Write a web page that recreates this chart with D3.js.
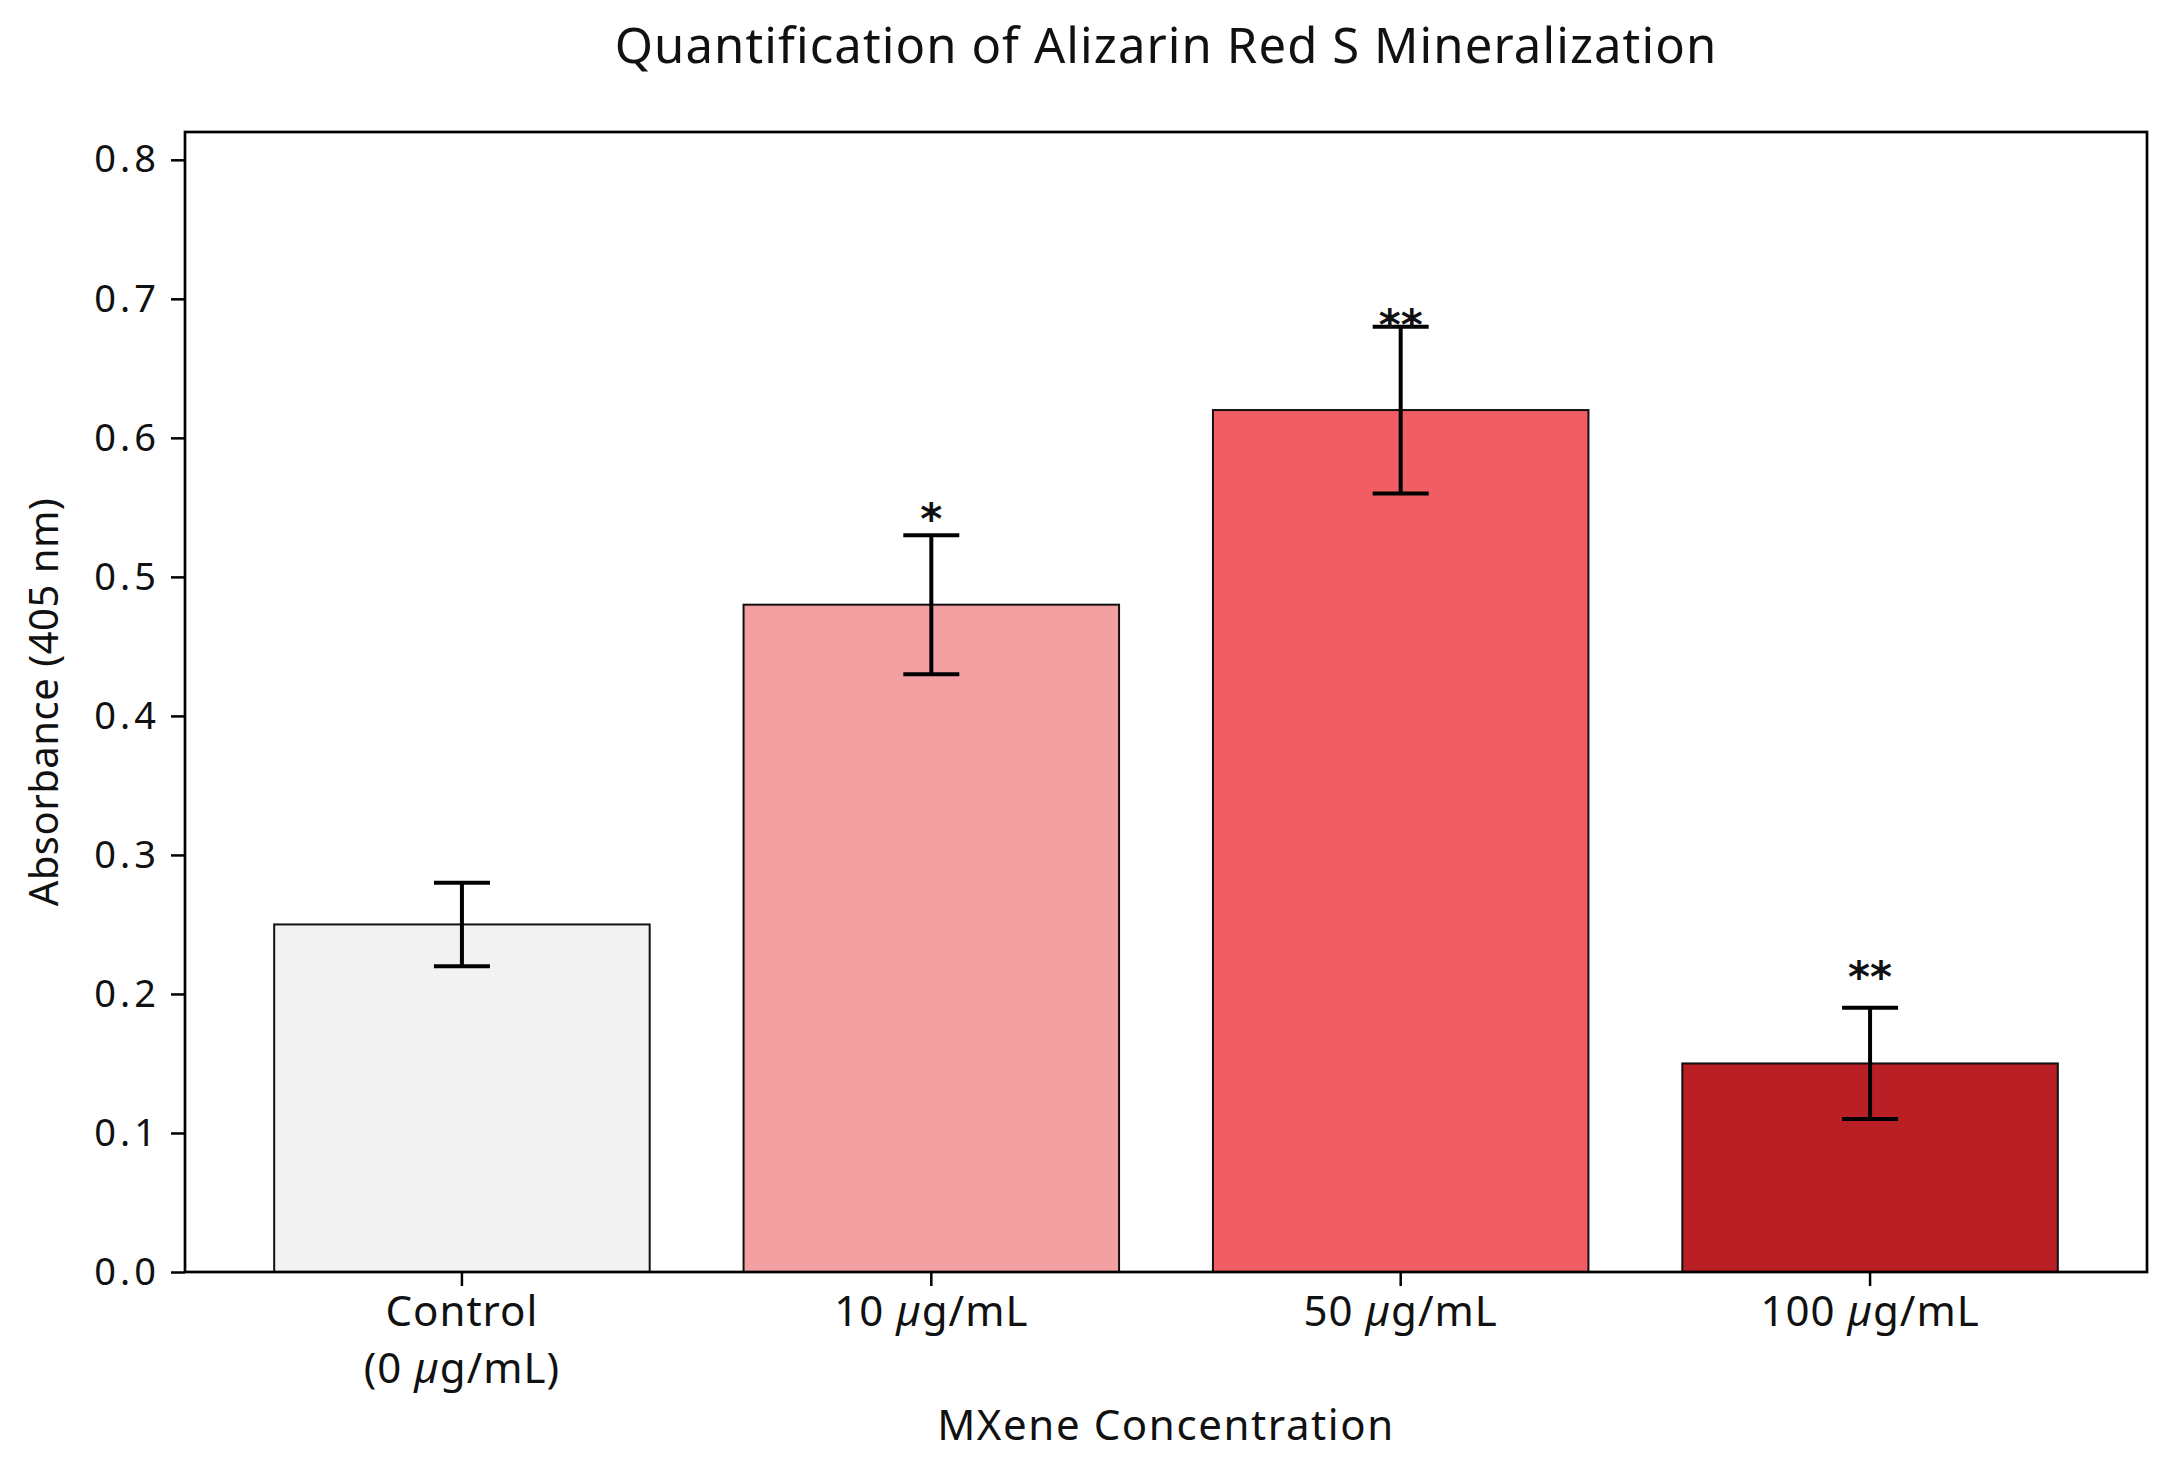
<!DOCTYPE html>
<html>
<head>
<meta charset="utf-8">
<script src="https://cdn.jsdelivr.net/npm/d3@7"></script>
<style>
  body { margin: 0; background: #fff; }
  text { font-family: "Noto Sans", "Open Sans", sans-serif; fill: #111; }
</style>
</head>
<body>
<div id="chart"></div>
<script>
// data
const groups = ["Control", "10", "50", "100"];
const tickLines = [["Control", "(0 |µ|g/mL)"], ["10 |µ|g/mL"], ["50 |µ|g/mL"], ["100 |µ|g/mL"]];
const means = [0.25, 0.48, 0.62, 0.15];
const errs = [0.03, 0.05, 0.06, 0.04];
const sigLabels = ["", "*", "**", "**"];
const sigLevels = [0, 0.547, 0.686, 0.217];   // where the stars sit
const barColors = ["#f2f2f2", "#f4a0a3", "#f05e63", "#b91f25"];
const yTicks = [0, 0.1, 0.2, 0.3, 0.4, 0.5, 0.6, 0.7, 0.8];

const svgWidth = 2173, svgHeight = 1472;
const margin = {top: 132, right: 26, bottom: 200, left: 185};
const chartWidth = svgWidth - margin.left - margin.right;
const chartHeight = svgHeight - margin.top - margin.bottom;

const svg = d3.select("#chart").append("svg")
  .attr("width", svgWidth)
  .attr("height", svgHeight);

const chart = svg.append("g")
  .attr("transform", `translate(${margin.left},${margin.top})`);

const x = d3.scaleBand()
  .domain(groups)
  .range([0, chartWidth])
  .paddingInner(0.2)
  .paddingOuter(0.19);

const y = d3.scaleLinear()
  .domain([0, 0.82])
  .range([chartHeight, 0]);

// bars
chart.selectAll("rect.bar")
  .data(groups)
  .enter().append("rect")
  .attr("class", "bar")
  .attr("x", d => x(d))
  .attr("y", (d, i) => y(means[i]))
  .attr("width", x.bandwidth())
  .attr("height", (d, i) => y(0) - y(means[i]))
  .attr("fill", (d, i) => barColors[i])
  .attr("stroke", "#111")
  .attr("stroke-width", 2);

// error bars
const capHalf = 28;
const eb = chart.selectAll("g.err")
  .data(groups)
  .enter().append("g")
  .attr("class", "err")
  .attr("stroke", "#000")
  .attr("stroke-width", 4);
eb.append("line")
  .attr("x1", d => x(d) + x.bandwidth() / 2)
  .attr("x2", d => x(d) + x.bandwidth() / 2)
  .attr("y1", (d, i) => y(means[i] - errs[i]))
  .attr("y2", (d, i) => y(means[i] + errs[i]));
eb.append("line")
  .attr("x1", d => x(d) + x.bandwidth() / 2 - capHalf)
  .attr("x2", d => x(d) + x.bandwidth() / 2 + capHalf)
  .attr("y1", (d, i) => y(means[i] + errs[i]))
  .attr("y2", (d, i) => y(means[i] + errs[i]));
eb.append("line")
  .attr("x1", d => x(d) + x.bandwidth() / 2 - capHalf)
  .attr("x2", d => x(d) + x.bandwidth() / 2 + capHalf)
  .attr("y1", (d, i) => y(means[i] - errs[i]))
  .attr("y2", (d, i) => y(means[i] - errs[i]));

// significance stars
chart.selectAll("text.sig")
  .data(groups)
  .enter().append("text")
  .attr("class", "sig")
  .attr("x", d => x(d) + x.bandwidth() / 2)
  .attr("y", (d, i) => y(sigLevels[i]) + 22)
  .attr("text-anchor", "middle")
  .style("font-size", "42px")
  .style("font-weight", "bold")
  .style("font-family", "DejaVu Sans")
  .text((d, i) => sigLabels[i]);

// axes
const yAxis = d3.axisLeft(y).tickValues(yTicks).tickFormat(d3.format(".1f")).tickSize(14).tickPadding(11);
const xAxis = d3.axisBottom(x).tickSize(14).tickFormat("");

const gy = chart.append("g").call(yAxis);
gy.select(".domain").remove();
gy.selectAll("line").attr("stroke", "#000").attr("stroke-width", 2.5);
gy.selectAll("text")
  .style("font-size", "38px")
  .style("letter-spacing", "4px")
  .style("font-family", null);

const gx = chart.append("g")
  .attr("transform", `translate(0,${chartHeight})`)
  .call(xAxis);
gx.select(".domain").remove();
gx.selectAll("line").attr("stroke", "#000").attr("stroke-width", 2.5);

// x tick labels, with italic mu
groups.forEach((g, i) => {
  const t = chart.append("text")
    .attr("x", x(g) + x.bandwidth() / 2)
    .attr("y", chartHeight + 54)
    .attr("text-anchor", "middle")
    .style("font-size", "42px")
    .style("letter-spacing", "1px");
  tickLines[i].forEach((line, li) => {
    const parts = line.split("|");
    parts.forEach((p, pi) => {
      const ts = t.append("tspan").text(p);
      if (pi === 0) ts.attr("x", x(g) + x.bandwidth() / 2).attr("dy", li === 0 ? 0 : 57);
      if (p === "µ") ts.style("font-style", "italic");
    });
  });
});

// frame
chart.append("rect")
  .attr("width", chartWidth)
  .attr("height", chartHeight)
  .attr("fill", "none")
  .attr("stroke", "#000")
  .attr("stroke-width", 2.7);

// title and axis labels
svg.append("text")
  .attr("x", margin.left + chartWidth / 2)
  .attr("y", 63)
  .attr("text-anchor", "middle")
  .style("font-size", "49px")
  .style("letter-spacing", "1.1px")
  .text("Quantification of Alizarin Red S Mineralization");

svg.append("text")
  .attr("x", margin.left + chartWidth / 2)
  .attr("y", 1440)
  .attr("text-anchor", "middle")
  .style("font-size", "42px")
  .style("letter-spacing", "1.6px")
  .text("MXene Concentration");

svg.append("text")
  .attr("transform", `translate(58,${margin.top + chartHeight / 2}) rotate(-90)`)
  .attr("text-anchor", "middle")
  .style("font-size", "40px")
  .style("letter-spacing", "0.5px")
  .text("Absorbance (405 nm)");
</script>
</body>
</html>
